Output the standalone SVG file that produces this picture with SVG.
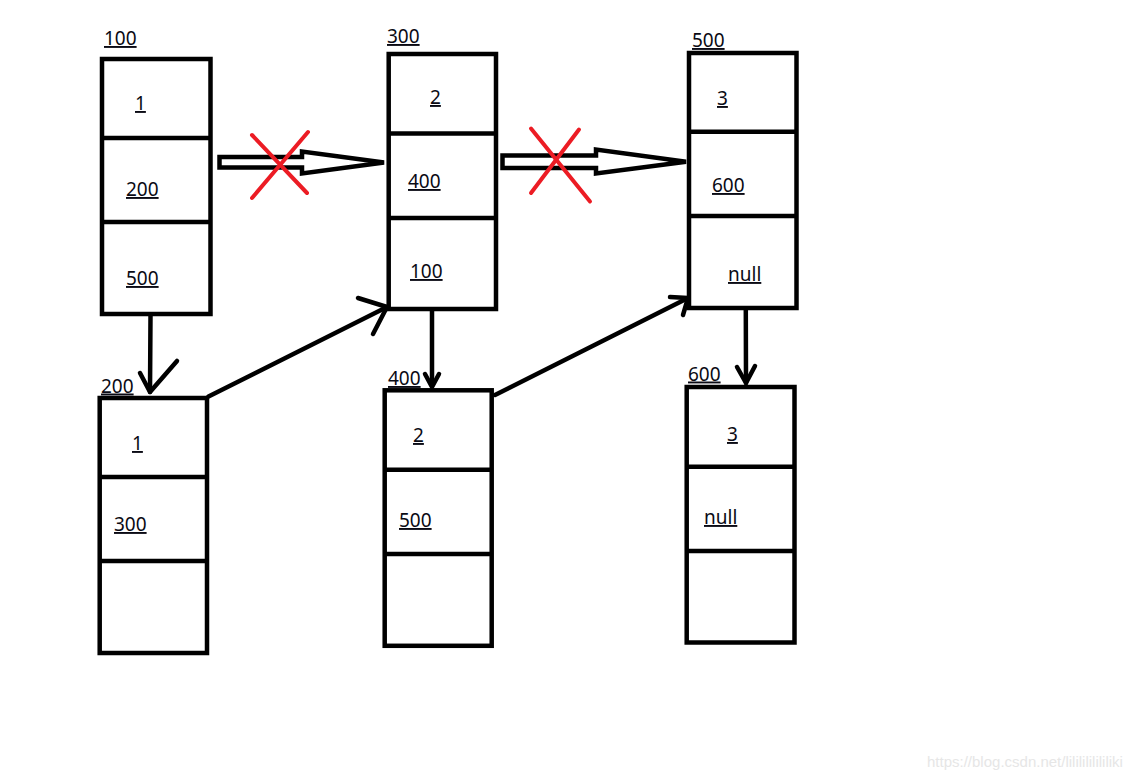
<svg xmlns="http://www.w3.org/2000/svg" width="1139" height="780" viewBox="0 0 1139 780">
<style>
.box{fill:none;stroke:#000;stroke-width:4.5}
.div{stroke:#000;stroke-width:4.5}
.t{font-family:"Noto Sans","Liberation Sans",sans-serif;font-size:19px;fill:#0a0a14;text-decoration:underline}
.c{fill:none;stroke:#000;stroke-width:4.5;stroke-linecap:round;stroke-linejoin:round}
.h{fill:none;stroke:#000;stroke-width:4.5;stroke-linejoin:miter}
.x{stroke:#ec1c24;stroke-width:4;stroke-linecap:round}
.wm{font-family:"Liberation Sans",Arial,sans-serif;font-size:15px;fill:#e6e6e6}
</style>
<rect width="1139" height="780" fill="#fff"/>
<g id="node-100">
<rect class="box" x="102" y="59" width="108.5" height="255"/>
<line class="div" x1="102" y1="138" x2="210.5" y2="138"/>
<line class="div" x1="102" y1="222" x2="210.5" y2="222"/>
<text class="t" x="104" y="45">100</text>
<text class="t" x="135" y="110">1</text>
<text class="t" x="126" y="196">200</text>
<text class="t" x="126" y="285">500</text>
</g>
<g id="node-300">
<rect class="box" x="388.7" y="54" width="107.3" height="255"/>
<line class="div" x1="388.7" y1="133.5" x2="496" y2="133.5"/>
<line class="div" x1="388.7" y1="218" x2="496" y2="218"/>
<text class="t" x="387" y="43">300</text>
<text class="t" x="430" y="104">2</text>
<text class="t" x="408" y="188">400</text>
<text class="t" x="410" y="278">100</text>
</g>
<g id="node-500">
<rect class="box" x="689" y="53" width="107.5" height="255"/>
<line class="div" x1="689" y1="131.7" x2="796.5" y2="131.7"/>
<line class="div" x1="689" y1="216" x2="796.5" y2="216"/>
<text class="t" x="692" y="47">500</text>
<text class="t" x="717" y="105">3</text>
<text class="t" x="712" y="192">600</text>
<text class="t" x="728" y="281">null</text>
</g>
<g id="node-200">
<rect class="box" x="99.7" y="398" width="107.3" height="255"/>
<line class="div" x1="99.7" y1="477" x2="207" y2="477"/>
<line class="div" x1="99.7" y1="561" x2="207" y2="561"/>
<text class="t" x="101" y="392.5">200</text>
<text class="t" x="132" y="450">1</text>
<text class="t" x="114" y="531">300</text>
</g>
<g id="node-400">
<rect class="box" x="384.7" y="390.3" width="107" height="255.5"/>
<line class="div" x1="384.7" y1="469.8" x2="491.7" y2="469.8"/>
<line class="div" x1="384.7" y1="554" x2="491.7" y2="554"/>
<text class="t" x="388" y="385">400</text>
<text class="t" x="413" y="442">2</text>
<text class="t" x="399" y="527">500</text>
</g>
<g id="node-600">
<rect class="box" x="686.7" y="387" width="107.8" height="255.5"/>
<line class="div" x1="686.7" y1="466.7" x2="794.5" y2="466.7"/>
<line class="div" x1="686.7" y1="551" x2="794.5" y2="551"/>
<text class="t" x="688" y="380.5">600</text>
<text class="t" x="727" y="441">3</text>
<text class="t" x="704" y="524">null</text>
</g>
<g id="connectors">
<line class="c" x1="150.5" y1="316" x2="150" y2="392"/>
<polyline class="c" points="140,373 150,392 177,361"/>
<line class="c" x1="208.5" y1="396.5" x2="387" y2="307"/>
<polyline class="c" points="358,298 387,307 373,334"/>
<line class="c" x1="432" y1="311" x2="432" y2="386"/>
<polyline class="c" points="425,374 432,387 439,374"/>
<line class="c" x1="495" y1="395" x2="688" y2="298"/>
<polyline class="c" points="670,297 688,298 683,315"/>
<line class="c" x1="745.8" y1="310" x2="746" y2="383"/>
<polyline class="c" points="737,367 746,383 755,366"/>
<path class="h" d="M219.5,157 L302,157 L302,151.5 L384,162.5 L302,173.5 L302,167.5 L219.5,167.5 Z"/>
<path class="h" d="M502.5,155.5 L596,155.5 L596,149.5 L686,161.7 L596,173.5 L596,168 L502.5,168 Z"/>
<line class="x" x1="252" y1="135" x2="307" y2="193"/>
<line class="x" x1="308" y1="132" x2="252" y2="198"/>
<line class="x" x1="531" y1="128.5" x2="590" y2="201.5"/>
<line class="x" x1="579" y1="129.5" x2="531" y2="193"/>
</g>
<text class="wm" x="927" y="767">https://blog.csdn.net/lililililililiki</text>
</svg>
